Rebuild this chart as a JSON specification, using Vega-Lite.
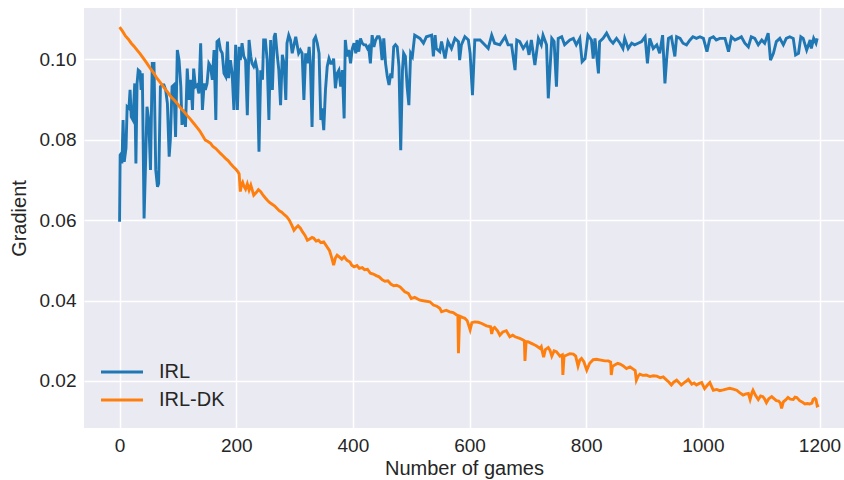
{
"$schema": "https://vega.github.io/schema/vega-lite/v6.json",
"width": 760, "height": 420,
"autosize": {"type": "none"},
"padding": {"left": 84, "top": 8, "right": 0, "bottom": 52},
"background": "white",
"config": {
 "view": {"fill": "#EAEAF2", "stroke": null},
 "font": "Liberation Sans",
 "axis": {"grid": true, "gridColor": "white", "gridWidth": 1.5, "ticks": false, "domain": false, "labelFontSize": 19, "labelColor": "#262626", "labelPadding": 8, "titleFontSize": 20, "titleFontWeight": "normal", "titleColor": "#262626"}
},
"datasets": {
"irl": [
{"g":0,"v":0.0596},{"g":1,"v":0.0762},{"g":3,"v":0.0766},{"g":4,"v":0.0741},{"g":6,"v":0.0849},{"g":8,"v":0.0745},{"g":11,"v":0.0779},{"g":13,"v":0.0882},{"g":16,"v":0.0878},{"g":18,"v":0.0924},{"g":20,"v":0.0857},{"g":23,"v":0.0849},{"g":26,"v":0.0940},{"g":28,"v":0.0741},{"g":30,"v":0.0940},{"g":32,"v":0.0973},{"g":35,"v":0.0969},{"g":37,"v":0.0924},{"g":39,"v":0.0965},{"g":42,"v":0.0604},{"g":45,"v":0.0766},{"g":47,"v":0.0882},{"g":50,"v":0.0849},{"g":53,"v":0.0725},{"g":56,"v":0.0990},{"g":59,"v":0.0990},{"g":62,"v":0.0725},{"g":65,"v":0.0683},{"g":67,"v":0.0691},{"g":70,"v":0.0932},{"g":73,"v":0.0936},{"g":76,"v":0.0936},{"g":79,"v":0.0924},{"g":82,"v":0.0890},{"g":85,"v":0.0758},{"g":87,"v":0.0799},{"g":90,"v":0.0932},{"g":93,"v":0.0936},{"g":96,"v":0.0807},{"g":99,"v":0.1023},{"g":102,"v":0.0998},{"g":105,"v":0.0932},{"g":107,"v":0.0837},{"g":110,"v":0.0874},{"g":113,"v":0.0832},{"g":116,"v":0.0977},{"g":119,"v":0.0899},{"g":122,"v":0.0949},{"g":125,"v":0.0874},{"g":127,"v":0.0977},{"g":130,"v":0.0932},{"g":133,"v":0.0936},{"g":136,"v":0.0915},{"g":139,"v":0.1040},{"g":142,"v":0.0874},{"g":145,"v":0.0940},{"g":147,"v":0.0924},{"g":150,"v":0.0940},{"g":153,"v":0.0990},{"g":156,"v":0.0982},{"g":159,"v":0.0949},{"g":162,"v":0.1023},{"g":165,"v":0.0849},{"g":167,"v":0.1044},{"g":170,"v":0.1048},{"g":173,"v":0.1023},{"g":176,"v":0.1015},{"g":179,"v":0.0965},{"g":182,"v":0.0957},{"g":185,"v":0.1044},{"g":187,"v":0.0953},{"g":190,"v":0.0998},{"g":193,"v":0.0965},{"g":196,"v":0.0874},{"g":199,"v":0.1036},{"g":202,"v":0.0874},{"g":205,"v":0.1031},{"g":207,"v":0.0998},{"g":210,"v":0.1040},{"g":213,"v":0.1007},{"g":216,"v":0.0998},{"g":219,"v":0.0861},{"g":222,"v":0.1048},{"g":225,"v":0.1007},{"g":227,"v":0.0990},{"g":230,"v":0.0982},{"g":233,"v":0.0994},{"g":236,"v":0.0973},{"g":239,"v":0.0770},{"g":242,"v":0.0973},{"g":245,"v":0.0949},{"g":247,"v":0.1048},{"g":250,"v":0.1048},{"g":253,"v":0.0998},{"g":256,"v":0.0849},{"g":259,"v":0.1048},{"g":262,"v":0.0924},{"g":265,"v":0.1056},{"g":267,"v":0.1065},{"g":270,"v":0.1015},{"g":273,"v":0.0973},{"g":276,"v":0.0886},{"g":279,"v":0.1011},{"g":282,"v":0.0990},{"g":285,"v":0.0899},{"g":287,"v":0.1040},{"g":290,"v":0.1060},{"g":293,"v":0.1048},{"g":296,"v":0.1015},{"g":299,"v":0.1036},{"g":302,"v":0.1056},{"g":305,"v":0.1031},{"g":307,"v":0.1015},{"g":310,"v":0.1023},{"g":313,"v":0.1015},{"g":316,"v":0.0899},{"g":319,"v":0.1015},{"g":322,"v":0.0990},{"g":325,"v":0.1031},{"g":327,"v":0.0994},{"g":330,"v":0.0832},{"g":333,"v":0.1048},{"g":336,"v":0.1056},{"g":339,"v":0.1040},{"g":342,"v":0.1015},{"g":345,"v":0.0849},{"g":347,"v":0.0878},{"g":350,"v":0.0824},{"g":353,"v":0.0924},{"g":356,"v":0.0982},{"g":359,"v":0.1002},{"g":362,"v":0.0990},{"g":365,"v":0.0990},{"g":367,"v":0.1002},{"g":370,"v":0.0928},{"g":373,"v":0.0965},{"g":376,"v":0.0973},{"g":379,"v":0.0932},{"g":382,"v":0.0973},{"g":385,"v":0.0853},{"g":387,"v":0.1048},{"g":390,"v":0.1007},{"g":393,"v":0.1023},{"g":396,"v":0.0990},{"g":399,"v":0.1027},{"g":402,"v":0.1040},{"g":405,"v":0.1015},{"g":407,"v":0.1048},{"g":410,"v":0.1019},{"g":413,"v":0.1052},{"g":416,"v":0.1040},{"g":419,"v":0.1036},{"g":422,"v":0.1036},{"g":425,"v":0.1027},{"g":427,"v":0.1031},{"g":430,"v":0.0990},{"g":433,"v":0.1060},{"g":436,"v":0.1031},{"g":439,"v":0.1048},{"g":442,"v":0.1056},{"g":445,"v":0.1056},{"g":447,"v":0.1048},{"g":450,"v":0.0998},{"g":453,"v":0.1052},{"g":456,"v":0.0990},{"g":459,"v":0.0957},{"g":462,"v":0.0936},{"g":465,"v":0.0965},{"g":467,"v":0.0953},{"g":470,"v":0.1031},{"g":473,"v":0.1036},{"g":476,"v":0.1031},{"g":479,"v":0.0982},{"g":482,"v":0.0774},{"g":485,"v":0.0973},{"g":487,"v":0.1015},{"g":490,"v":0.1007},{"g":493,"v":0.0932},{"g":496,"v":0.0886},{"g":499,"v":0.1015},{"g":502,"v":0.1007},
{"g":506,"v":0.1060},{"g":515,"v":0.1052},{"g":521,"v":0.1040},{"g":526,"v":0.1056},{"g":535,"v":0.1060},{"g":538,"v":0.1007},{"g":541,"v":0.1060},{"g":543,"v":0.1027},{"g":549,"v":0.1019},{"g":552,"v":0.1044},{"g":558,"v":0.1002},{"g":563,"v":0.1044},{"g":569,"v":0.1027},{"g":575,"v":0.1052},{"g":581,"v":0.1044},{"g":583,"v":0.0998},{"g":586,"v":0.1036},{"g":592,"v":0.1056},{"g":598,"v":0.1048},{"g":601,"v":0.1015},{"g":605,"v":0.0911},{"g":609,"v":0.1048},{"g":618,"v":0.1048},{"g":626,"v":0.1036},{"g":632,"v":0.1027},{"g":638,"v":0.1060},{"g":643,"v":0.1040},{"g":652,"v":0.1036},{"g":661,"v":0.1056},{"g":666,"v":0.1036},{"g":672,"v":0.1036},{"g":678,"v":0.0973},{"g":681,"v":0.1048},{"g":686,"v":0.1044},{"g":692,"v":0.1027},{"g":698,"v":0.1040},{"g":702,"v":0.1011},{"g":706,"v":0.1048},{"g":712,"v":0.0986},{"g":718,"v":0.1052},{"g":723,"v":0.1036},{"g":726,"v":0.1060},{"g":732,"v":0.1036},{"g":735,"v":0.0903},{"g":741,"v":0.1052},{"g":745,"v":0.1044},{"g":749,"v":0.0932},{"g":752,"v":0.1052},{"g":758,"v":0.1056},{"g":763,"v":0.1036},{"g":772,"v":0.1048},{"g":778,"v":0.1052},{"g":783,"v":0.1036},{"g":789,"v":0.1052},{"g":793,"v":0.0994},{"g":798,"v":0.1002},{"g":803,"v":0.1060},{"g":809,"v":0.1048},{"g":812,"v":0.1002},{"g":815,"v":0.1052},{"g":821,"v":0.0965},{"g":823,"v":0.1044},{"g":829,"v":0.1052},{"g":835,"v":0.1065},{"g":841,"v":0.1048},{"g":846,"v":0.1040},{"g":852,"v":0.1052},
{"g":858,"v":0.1040},{"g":863,"v":0.1027},{"g":866,"v":0.1052},{"g":872,"v":0.1027},{"g":878,"v":0.1040},{"g":883,"v":0.1036},{"g":889,"v":0.1040},{"g":895,"v":0.1044},{"g":901,"v":0.1056},{"g":905,"v":0.0990},{"g":909,"v":0.1052},{"g":915,"v":0.1027},{"g":921,"v":0.1036},{"g":926,"v":0.1015},{"g":931,"v":0.1060},{"g":935,"v":0.0940},{"g":938,"v":0.1002},{"g":941,"v":0.1052},{"g":946,"v":0.1056},{"g":952,"v":0.1007},{"g":955,"v":0.1056},{"g":961,"v":0.1052},{"g":966,"v":0.1040},{"g":972,"v":0.1036},{"g":978,"v":0.1048},{"g":983,"v":0.1056},{"g":989,"v":0.1052},{"g":995,"v":0.1056},{"g":1001,"v":0.1052},{"g":1007,"v":0.1019},{"g":1012,"v":0.1052},{"g":1018,"v":0.1056},{"g":1023,"v":0.1048},{"g":1029,"v":0.1052},{"g":1038,"v":0.1052},{"g":1044,"v":0.1019},{"g":1049,"v":0.1056},{"g":1055,"v":0.1048},{"g":1061,"v":0.1052},{"g":1066,"v":0.1056},{"g":1072,"v":0.1040},{"g":1078,"v":0.1031},{"g":1083,"v":0.1056},{"g":1089,"v":0.1052},{"g":1095,"v":0.1036},{"g":1101,"v":0.1048},{"g":1106,"v":0.1040},{"g":1112,"v":0.1065},{"g":1116,"v":0.0998},{"g":1121,"v":0.1015},{"g":1126,"v":0.1044},{"g":1132,"v":0.1052},{"g":1138,"v":0.1036},{"g":1143,"v":0.1052},{"g":1149,"v":0.1056},{"g":1155,"v":0.1052},{"g":1159,"v":0.1011},{"g":1164,"v":0.1015},{"g":1168,"v":0.1056},{"g":1172,"v":0.1052},{"g":1178,"v":0.1023},{"g":1184,"v":0.1048},{"g":1186,"v":0.1027},{"g":1190,"v":0.1052},{"g":1194,"v":0.1040},{"g":1196,"v":0.1052}
],
"dk": [
{"g":0,"v":0.1080},{"g":5,"v":0.1070},{"g":10,"v":0.1058},{"g":15,"v":0.1050},{"g":20,"v":0.1040},{"g":25,"v":0.1032},{"g":30,"v":0.1023},{"g":35,"v":0.1014},{"g":40,"v":0.1004},{"g":47,"v":0.0990},{"g":52,"v":0.0979},{"g":58,"v":0.0967},{"g":64,"v":0.0953},{"g":70,"v":0.0942},{"g":76,"v":0.0930},{"g":82,"v":0.0919},{"g":88,"v":0.0907},{"g":94,"v":0.0898},{"g":100,"v":0.0888},{"g":105,"v":0.0878},{"g":111,"v":0.0869},{"g":116,"v":0.0860},{"g":121,"v":0.0852},{"g":127,"v":0.0841},{"g":132,"v":0.0832},{"g":137,"v":0.0823},{"g":142,"v":0.0811},{"g":147,"v":0.0799},{"g":152,"v":0.0795},{"g":156,"v":0.0791},{"g":160,"v":0.0783},{"g":165,"v":0.0778},{"g":169,"v":0.0772},{"g":173,"v":0.0766},{"g":178,"v":0.0759},{"g":182,"v":0.0753},{"g":186,"v":0.0748},{"g":190,"v":0.0741},{"g":195,"v":0.0733},{"g":199,"v":0.0727},{"g":203,"v":0.0720},{"g":205,"v":0.0715},{"g":207,"v":0.0671},{"g":209,"v":0.0688},{"g":211,"v":0.0694},{"g":213,"v":0.0685},{"g":216,"v":0.0677},{"g":219,"v":0.0690},{"g":222,"v":0.0675},{"g":225,"v":0.0687},{"g":228,"v":0.0672},{"g":230,"v":0.0662},{"g":234,"v":0.0668},{"g":238,"v":0.0676},{"g":242,"v":0.0671},{"g":246,"v":0.0662},{"g":250,"v":0.0655},{"g":253,"v":0.0650},{"g":257,"v":0.0644},{"g":261,"v":0.0640},{"g":266,"v":0.0635},{"g":270,"v":0.0629},{"g":274,"v":0.0623},{"g":278,"v":0.0620},{"g":283,"v":0.0613},{"g":287,"v":0.0608},{"g":291,"v":0.0600},{"g":295,"v":0.0588},{"g":299,"v":0.0575},{"g":303,"v":0.0582},{"g":306,"v":0.0586},{"g":310,"v":0.0580},{"g":314,"v":0.0570},{"g":318,"v":0.0562},{"g":322,"v":0.0550},{"g":326,"v":0.0553},{"g":330,"v":0.0557},{"g":333,"v":0.0555},{"g":337,"v":0.0548},{"g":341,"v":0.0550},{"g":345,"v":0.0544},{"g":350,"v":0.0546},{"g":355,"v":0.0535},{"g":360,"v":0.0524},{"g":364,"v":0.0505},{"g":367,"v":0.0488},{"g":370,"v":0.0506},{"g":373,"v":0.0513},{"g":377,"v":0.0508},{"g":381,"v":0.0503},{"g":385,"v":0.0509},{"g":390,"v":0.0500},{"g":395,"v":0.0496},{"g":398,"v":0.0488},{"g":402,"v":0.0484},{"g":407,"v":0.0487},{"g":411,"v":0.0480},{"g":416,"v":0.0482},{"g":420,"v":0.0477},{"g":425,"v":0.0478},{"g":430,"v":0.0468},{"g":435,"v":0.0466},{"g":440,"v":0.0462},{"g":445,"v":0.0459},{"g":450,"v":0.0452},{"g":455,"v":0.0448},{"g":460,"v":0.0449},{"g":465,"v":0.0441},{"g":470,"v":0.0437},{"g":475,"v":0.0438},{"g":481,"v":0.0434},{"g":489,"v":0.0422},{"g":495,"v":0.0418},{"g":500,"v":0.0405},{"g":506,"v":0.0408},{"g":515,"v":0.0401},{"g":523,"v":0.0399},{"g":532,"v":0.0397},{"g":538,"v":0.0389},{"g":544,"v":0.0386},{"g":549,"v":0.0381},{"g":552,"v":0.0372},{"g":560,"v":0.0376},{"g":566,"v":0.0372},{"g":572,"v":0.0370},{"g":578,"v":0.0364},{"g":580,"v":0.0362},{"g":581,"v":0.0269},{"g":583,"v":0.0361},{"g":588,"v":0.0358},{"g":592,"v":0.0356},{"g":596,"v":0.0350},{"g":601,"v":0.0327},{"g":604,"v":0.0345},{"g":609,"v":0.0347},{"g":615,"v":0.0346},{"g":621,"v":0.0343},{"g":629,"v":0.0337},{"g":636,"v":0.0335},{"g":638,"v":0.0317},{"g":640,"v":0.0330},{"g":643,"v":0.0333},{"g":648,"v":0.0325},{"g":652,"v":0.0314},{"g":657,"v":0.0322},{"g":663,"v":0.0325},{"g":669,"v":0.0310},{"g":674,"v":0.0314},{"g":678,"v":0.0310},{"g":686,"v":0.0306},{"g":692,"v":0.0302},{"g":694,"v":0.0300},{"g":695,"v":0.0250},{"g":697,"v":0.0298},{"g":700,"v":0.0298},{"g":707,"v":0.0293},{"g":711,"v":0.0290},{"g":715,"v":0.0287},{"g":721,"v":0.0281},{"g":723,"v":0.0285},{"g":727,"v":0.0259},{"g":730,"v":0.0278},{"g":735,"v":0.0283},{"g":738,"v":0.0276},{"g":741,"v":0.0262},{"g":745,"v":0.0275},{"g":749,"v":0.0273},{"g":755,"v":0.0262},{"g":759,"v":0.0265},{"g":760,"v":0.0215},{"g":762,"v":0.0262},{"g":766,"v":0.0264},{"g":772,"v":0.0268},{"g":778,"v":0.0267},{"g":782,"v":0.0262},{"g":786,"v":0.0237},{"g":789,"v":0.0252},{"g":792,"v":0.0256},{"g":796,"v":0.0248},{"g":801,"v":0.0227},{"g":806,"v":0.0244},{"g":812,"v":0.0253},{"g":818,"v":0.0254},{"g":825,"v":0.0252},{"g":832,"v":0.0250},{"g":838,"v":0.0250},{"g":842,"v":0.0247},{"g":843,"v":0.0215},{"g":845,"v":0.0236},{"g":849,"v":0.0240},{"g":854,"v":0.0244},{"g":858,"v":0.0242},{"g":863,"v":0.0238},{"g":869,"v":0.0231},{"g":875,"v":0.0235},{"g":880,"v":0.0230},{"g":884,"v":0.0226},{"g":886,"v":0.0202},{"g":889,"v":0.0212},{"g":892,"v":0.0217},{"g":897,"v":0.0214},{"g":903,"v":0.0215},{"g":909,"v":0.0211},{"g":915,"v":0.0213},{"g":921,"v":0.0212},{"g":927,"v":0.0208},{"g":932,"v":0.0210},{"g":938,"v":0.0202},{"g":942,"v":0.0197},{"g":946,"v":0.0190},{"g":950,"v":0.0197},{"g":955,"v":0.0202},{"g":959,"v":0.0196},{"g":963,"v":0.0190},{"g":968,"v":0.0196},{"g":972,"v":0.0200},{"g":975,"v":0.0204},{"g":981,"v":0.0192},{"g":985,"v":0.0195},{"g":989,"v":0.0190},{"g":994,"v":0.0194},{"g":998,"v":0.0196},{"g":1003,"v":0.0181},{"g":1008,"v":0.0190},{"g":1012,"v":0.0196},{"g":1018,"v":0.0177},{"g":1024,"v":0.0179},{"g":1029,"v":0.0176},{"g":1035,"v":0.0178},{"g":1040,"v":0.0180},{"g":1046,"v":0.0182},{"g":1052,"v":0.0180},{"g":1058,"v":0.0177},{"g":1063,"v":0.0171},{"g":1069,"v":0.0165},{"g":1074,"v":0.0168},{"g":1078,"v":0.0169},{"g":1081,"v":0.0154},{"g":1084,"v":0.0170},{"g":1086,"v":0.0177},{"g":1090,"v":0.0165},{"g":1095,"v":0.0154},{"g":1099,"v":0.0163},{"g":1103,"v":0.0161},{"g":1106,"v":0.0155},{"g":1109,"v":0.0146},{"g":1113,"v":0.0156},{"g":1118,"v":0.0161},{"g":1122,"v":0.0156},{"g":1126,"v":0.0151},{"g":1130,"v":0.0150},{"g":1133,"v":0.0145},{"g":1135,"v":0.0132},{"g":1138,"v":0.0148},{"g":1142,"v":0.0153},{"g":1146,"v":0.0159},{"g":1150,"v":0.0155},{"g":1155,"v":0.0154},{"g":1158,"v":0.0160},{"g":1161,"v":0.0159},{"g":1166,"v":0.0151},{"g":1170,"v":0.0148},{"g":1175,"v":0.0143},{"g":1179,"v":0.0144},{"g":1183,"v":0.0143},{"g":1187,"v":0.0145},{"g":1189,"v":0.0154},{"g":1192,"v":0.0157},{"g":1194,"v":0.0154},{"g":1196,"v":0.0138},{"g":1199,"v":0.0140}
]
},
"encoding": {
 "x": {"field": "g", "type": "quantitative", "scale": {"domain": [-61, 1242], "nice": false, "zero": false}, "axis": {"values": [0,200,400,600,800,1000,1200], "format": "d", "title": "Number of games", "titlePadding": 3}},
 "y": {"field": "v", "type": "quantitative", "scale": {"domain": [0.00831, 0.11276], "nice": false, "zero": false}, "axis": {"values": [0.02,0.04,0.06,0.08,0.10], "format": ".2f", "title": "Gradient", "titlePadding": 10}}
},
"layer": [
 {"data": {"name": "irl"}, "mark": {"type": "line", "strokeWidth": 2.9, "clip": true},
  "encoding": {"color": {"datum": "IRL", "scale": {"domain": ["IRL", "IRL-DK"], "range": ["#1f77b4", "#ff7f0e"]},
   "legend": {"orient": "none", "legendX": 28, "legendY": 354, "title": null, "labelFontSize": 20, "labelColor": "#262626", "symbolType": "M-3,0H3", "symbolSize": 196, "symbolStrokeWidth": 2.9, "labelOffset": 27, "rowPadding": 8, "padding": 0}}}},
 {"data": {"name": "dk"}, "mark": {"type": "line", "strokeWidth": 2.9, "clip": true},
  "encoding": {"color": {"datum": "IRL-DK"}}}
]
}
